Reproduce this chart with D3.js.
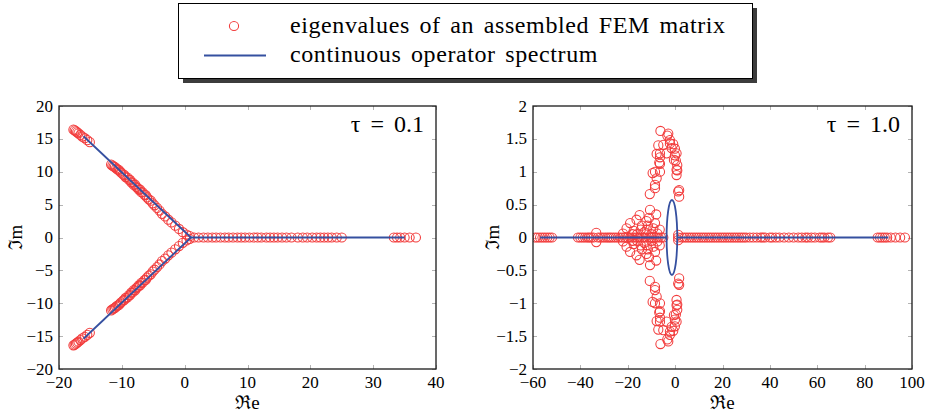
<!DOCTYPE html>
<html><head><meta charset="utf-8">
<script src="https://cdn.jsdelivr.net/npm/d3@7"></script>
<style>text{font-family:"Liberation Serif",serif;}</style>
</head><body style="margin:0">
<svg id="chart" width="926" height="416"></svg>
<script>
// ---------------- DATA ----------------
const tau01Upper = [[-17.7,16.4],[-17.5,16.3],[-17.3,16.15],[-17.1,16.0],[-16.9,15.85],[-16.6,15.6],[-16.3,15.35],[-15.9,15.1],[-15.5,14.8],[-15.1,14.5],
 [-11.7,11.1],[-11.5,10.95],[-11.3,10.8],[-11.1,10.7],[-10.9,10.5],[-10.7,10.35],[-10.5,10.3],[-10.3,10.05],[-10.1,9.85],[-9.8,9.6],[-9.6,9.5],[-9.4,9.2],[-9.1,9.1],[-8.9,8.8],[-8.7,8.75],[-8.5,8.4],[-8.3,8.35],[-8.1,8.0],[-7.9,8.05],[-7.7,7.7],[-7.5,7.55],[-7.3,7.3],[-7.1,7.3],[-6.9,6.9],[-6.7,6.85],[-6.4,6.5],[-6.2,6.45],[-6.0,6.1],[-5.7,5.8],[-5.4,5.6],[-5.1,5.2],[-4.8,4.9],[-4.4,4.5],[-4.0,4.1],[-3.6,3.6],[-3.1,3.2],[-2.6,2.7],[-2.1,2.3],[-1.5,1.8],[-0.9,1.3],[-0.3,0.8],[0.3,0.45],[0.8,0.2]];
const tau01Lower = [[-17.7,-16.4],[-17.5,-16.3],[-17.3,-16.15],[-17.1,-16.0],[-16.9,-15.85],[-16.6,-15.6],[-16.3,-15.35],[-15.9,-15.1],[-15.5,-14.8],[-15.1,-14.5],
 [-11.7,-11.1],[-11.5,-10.95],[-11.3,-10.8],[-11.1,-10.7],[-10.9,-10.5],[-10.7,-10.35],[-10.5,-10.3],[-10.3,-10.05],[-10.1,-9.85],[-9.8,-9.6],[-9.6,-9.5],[-9.4,-9.2],[-9.1,-9.1],[-8.9,-8.8],[-8.7,-8.75],[-8.5,-8.4],[-8.3,-8.35],[-8.1,-8.0],[-7.9,-8.05],[-7.7,-7.7],[-7.5,-7.55],[-7.3,-7.3],[-7.1,-7.3],[-6.9,-6.9],[-6.7,-6.85],[-6.4,-6.5],[-6.2,-6.45],[-6.0,-6.1],[-5.7,-5.8],[-5.4,-5.6],[-5.1,-5.2],[-4.8,-4.9],[-4.4,-4.5],[-4.0,-4.1],[-3.6,-3.6],[-3.1,-3.2],[-2.6,-2.7],[-2.1,-2.3],[-1.5,-1.8],[-0.9,-1.3],[-0.3,-0.8],[0.3,-0.45],[0.8,-0.2]];
const tau01RealAxis = [1.5,2.2,3.0,3.7,4.4,5.0,5.7,6.4,7.0,7.7,8.4,9.0,9.6,10.3,11.0,11.6,12.2,13.0,13.6,14.2,14.8,15.5,16.2,17.0,18.0,18.8,19.5,20.3,21.0,21.6,22.2,22.8,23.4,24.2,25.0,33.3,33.8,34.3,35.0,35.8,36.8];
const tau01Spectrum = [
  [[-16.1,15.4],[1.0,0]],
  [[-16.1,-15.4],[1.0,0]],
  [[1.0,0],[35.0,0]]
];
const tau1RealAxis = [-59,-58,-57,-56,-55,-54,-53,-52,
 -41,-40,-39,-38,-37,-36.3,-35.5,-34.5,-32.5,-31.5,-30.5,-29.5,-28.6,-27.8,-27,-26,-25,-24,-23,-22,-21,-20,-19,-18,-17,-16,-15,-14,-13,-12,-11,-10,-9,-8,-7,-6,-5,
 1.3,3,4,5,6,7,8,9,10,11,12,13,14,15,16,17,18,19,20,21,22,23,24,25,26,27,28,29,30,31.5,33,34.5,36,37,38,40,41,42.5,44,46,48,50,52,53.5,55,56,57.5,59,61,62,63,64.5,65.5,
 85.5,86.5,87.5,88.5,89.5,91,93,95,97];
const tau1CloudUpper = [[-33.3,0.07],[-22.0,0.06],[-20.5,0.14],[-19.0,0.22],[-17.5,0.1],[-16.3,0.27],[-16.0,0.05],[-15.0,0.34],[-14.5,0.12],[-14.0,0.18],[-13.0,0.08],[-12.1,0.25],[-12.0,0.12],[-11.0,0.3],[-10.6,0.42],[-10.0,0.05],[-9.2,0.14],[-8.5,0.22],[-8.0,0.35],[-7.5,0.06],[-18.0,0.05],[-11.5,0.18],[-6.5,0.12],[1.3,0.04]];
const tau1CloudLower = [[-33.3,-0.07],[-22.0,-0.06],[-20.5,-0.14],[-19.0,-0.22],[-17.5,-0.1],[-16.3,-0.27],[-16.0,-0.05],[-15.0,-0.34],[-14.5,-0.12],[-14.0,-0.18],[-13.0,-0.08],[-12.1,-0.25],[-12.0,-0.12],[-11.0,-0.3],[-10.6,-0.42],[-10.0,-0.05],[-9.2,-0.14],[-8.5,-0.22],[-8.0,-0.35],[-7.5,-0.06],[-18.0,-0.05],[-11.5,-0.18],[-6.5,-0.12],[1.3,-0.04]];
const tau1LobeUpper = [[-6.2,1.62],[-2.9,1.58],[-3.3,1.55],[-2.2,1.48],[-7.1,1.4],[-5.0,1.41],[-2.2,1.43],[-0.8,1.42],[-1.5,1.36],[-0.1,1.35],[-3.6,1.28],[-6.4,1.28],[-7.8,1.27],[-0.1,1.25],[0.6,1.28],[-6.4,1.22],[-0.5,1.18],[0.3,1.17],[-6.7,1.14],[-6.4,1.12],[0.9,1.1],[0.6,1.03],[0.9,1.02],[-8.5,1.0],[-6.4,1.0],[-9.5,0.98],[-7.8,0.9],[0.6,0.95],[-8.5,0.8],[-8.5,0.75],[1.7,0.72],[1.3,0.7],[-10.7,0.66],[1.7,0.62]];
const tau1LobeLower = [[-6.2,-1.62],[-2.9,-1.58],[-3.3,-1.55],[-2.2,-1.48],[-7.1,-1.4],[-5.0,-1.41],[-2.2,-1.43],[-0.8,-1.42],[-1.5,-1.36],[-0.1,-1.35],[-3.6,-1.28],[-6.4,-1.28],[-7.8,-1.27],[-0.1,-1.25],[0.6,-1.28],[-6.4,-1.22],[-0.5,-1.18],[0.3,-1.17],[-6.7,-1.14],[-6.4,-1.12],[0.9,-1.1],[0.6,-1.03],[0.9,-1.02],[-8.5,-1.0],[-6.4,-1.0],[-9.5,-0.98],[-7.8,-0.9],[0.6,-0.95],[-8.5,-0.8],[-8.5,-0.75],[1.7,-0.72],[1.3,-0.7],[-10.7,-0.66],[1.7,-0.62]];
const tau1Spectrum = [
  [[-57,0],[-3.6,0]],
  [[0.9,0],[90,0]]
];
const tau1Ellipse = {cx:-1.35, cy:0, rx:2.25, ry:0.57};

const tau01XTicks = [-20,-10,0,10,20,30,40];
const tau01YTicks = [-20,-15,-10,-5,0,5,10,15,20];
const tau1XTicks = [-60,-40,-20,0,20,40,60,80,100];
const tau1YTicks = [-2,-1.5,-1,-0.5,0,0.5,1,1.5,2];

const legendLabels = ["eigenvalues of an assembled FEM matrix","continuous operator spectrum"];
const panelValues = ["0.1","1.0"];

// ---------------- DRAW ----------------
const svg = d3.select("#chart");
const RED = "#f23c3c", BLUE = "#3550a0";
const FONT = "Liberation Serif";
const fmt = v => (v < 0 ? "\u2212" : "") + String(Math.abs(v));

function txt(parent, s, size) {
  return parent.append("text").attr("font-family", FONT).attr("font-size", size).text(s);
}

function panel(cfg) {
  const g = svg.append("g");
  const x = d3.scaleLinear().domain(cfg.xDomain).range([cfg.x0, cfg.x1]);
  const y = d3.scaleLinear().domain(cfg.yDomain).range([cfg.y1, cfg.y0]);

  const cid = "clip" + cfg.id;
  svg.append("clipPath").attr("id", cid).append("rect")
    .attr("x", cfg.x0).attr("y", cfg.y0).attr("width", cfg.x1 - cfg.x0).attr("height", cfg.y1 - cfg.y0);

  const tk = g.append("g").attr("stroke", "#b4b4b4").attr("stroke-width", 1);
  cfg.xTicks.forEach(t => {
    const px = Math.round(x(t)) + 0.5;
    tk.append("line").attr("x1", px).attr("x2", px).attr("y1", cfg.y1).attr("y2", cfg.y1 - 4);
    tk.append("line").attr("x1", px).attr("x2", px).attr("y1", cfg.y0).attr("y2", cfg.y0 + 4);
  });
  cfg.yTicks.forEach(t => {
    const py = Math.round(y(t)) + 0.5;
    tk.append("line").attr("x1", cfg.x0).attr("x2", cfg.x0 + 4).attr("y1", py).attr("y2", py);
    tk.append("line").attr("x1", cfg.x1).attr("x2", cfg.x1 - 4).attr("y1", py).attr("y2", py);
  });

  const pts = g.append("g").attr("clip-path", `url(#${cid})`);
  pts.selectAll("circle").data(cfg.eig).join("circle")
    .attr("cx", d => x(d[0])).attr("cy", d => y(d[1])).attr("r", 4.6)
    .attr("fill", "none").attr("stroke", RED).attr("stroke-width", 1.05);

  const line = d3.line().x(d => x(d[0])).y(d => y(d[1]));
  const sp = g.append("g").attr("clip-path", `url(#${cid})`);
  cfg.spectrum.forEach(seg => {
    sp.append("path").attr("d", line(seg)).attr("fill", "none").attr("stroke", BLUE).attr("stroke-width", 1.8);
  });
  if (cfg.ellipse) {
    const e = cfg.ellipse;
    sp.append("ellipse").attr("cx", x(e.cx)).attr("cy", y(e.cy))
      .attr("rx", x(e.cx + e.rx) - x(e.cx)).attr("ry", y(e.cy) - y(e.cy + e.ry))
      .attr("fill", "none").attr("stroke", BLUE).attr("stroke-width", 1.8);
  }

  g.append("rect").attr("x", cfg.x0).attr("y", cfg.y0).attr("width", cfg.x1 - cfg.x0).attr("height", cfg.y1 - cfg.y0)
    .attr("fill", "none").attr("stroke", "#1a1a1a").attr("stroke-width", 1.3);

  cfg.xTicks.forEach(t => txt(g, fmt(t), 17).attr("x", x(t)).attr("y", cfg.y1 + 19).attr("text-anchor", "middle"));
  cfg.yTicks.forEach(t => txt(g, fmt(t), 17).attr("x", cfg.x0 - 6).attr("y", y(t) + 5.5).attr("text-anchor", "end"));

  // panel label
  txt(g, "\u03C4 = " + cfg.value, 24).attr("x", cfg.x1 - 12).attr("y", cfg.y0 + 26).attr("text-anchor", "end").attr("word-spacing", 4);

  // axis labels
  txt(g, "\u211Ce", 19).attr("x", (cfg.x0 + cfg.x1) / 2).attr("y", cfg.y1 + 40).attr("text-anchor", "middle");
  txt(g, "\u2111m", 19).attr("transform", `translate(${cfg.ylx},${(cfg.y0 + cfg.y1) / 2}) rotate(-90)`).attr("text-anchor", "middle");
}

panel({
  id: "a", x0: 59, x1: 436, y0: 106, y1: 369, ylx: 22,
  xDomain: [-20, 40], yDomain: [-20, 20], xTicks: tau01XTicks, yTicks: tau01YTicks,
  eig: [...tau01Upper, ...tau01Lower, ...tau01RealAxis.map(r => [r, 0])],
  spectrum: tau01Spectrum, value: panelValues[0]
});
panel({
  id: "b", x0: 533, x1: 912, y0: 106, y1: 369, ylx: 499,
  xDomain: [-60, 100], yDomain: [-2, 2], xTicks: tau1XTicks, yTicks: tau1YTicks,
  eig: [...tau1RealAxis.map(r => [r, 0]), ...tau1CloudUpper, ...tau1CloudLower, ...tau1LobeUpper, ...tau1LobeLower],
  spectrum: tau1Spectrum, ellipse: tau1Ellipse, value: panelValues[1]
});

// legend
const lg = svg.append("g");
lg.append("rect").attr("x", 183).attr("y", 8).attr("width", 574).attr("height", 75).attr("fill", "#3c3c3c");
lg.append("rect").attr("x", 178.5).attr("y", 3.5).attr("width", 574).attr("height", 75).attr("fill", "#fff").attr("stroke", "#000").attr("stroke-width", 1);
lg.append("circle").attr("cx", 234).attr("cy", 26).attr("r", 4.6).attr("fill", "none").attr("stroke", RED).attr("stroke-width", 1.05);
lg.append("line").attr("x1", 204).attr("x2", 266).attr("y1", 55.5).attr("y2", 55.5).attr("stroke", BLUE).attr("stroke-width", 1.8);
txt(lg, legendLabels[0], 24).attr("x", 290).attr("y", 33).attr("word-spacing", 3).attr("letter-spacing", 0.6);
txt(lg, legendLabels[1], 24).attr("x", 290).attr("y", 62).attr("word-spacing", 3).attr("letter-spacing", 0.6);
</script>
</body></html>
